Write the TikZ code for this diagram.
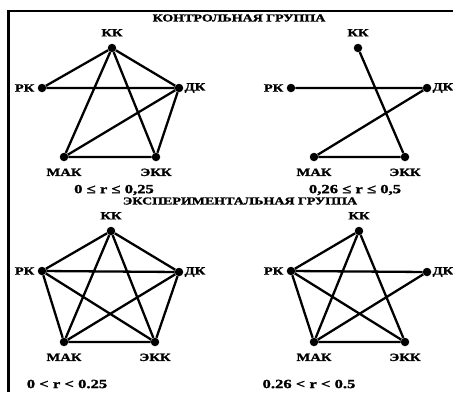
\documentclass[tikz,border=0pt]{standalone}
\usepackage{fontspec}
\setmainfont[FakeStretch=1.33,FakeBold=1.5]{Liberation Serif}
\tikzset{
  vert/.style={circle,fill,inner sep=0pt,minimum size=8.5pt},
  lbl/.style={font=\bfseries\fontsize{11}{12}\selectfont,inner sep=1pt},
  rng/.style={font=\bfseries\fontsize{12.5}{13}\selectfont,inner sep=0pt},
  ttl/.style={font=\bfseries\fontsize{10.5}{11}\selectfont,inner sep=0pt},
  up/.style={label={[lbl,label distance=6pt]above:#1}},
  lft/.style={label={[lbl,label distance=2pt]left:#1}},
  rgt/.style={label={[lbl,label distance=0pt]right:#1}},
  dn/.style={label={[lbl,label distance=6pt]below:#1}},
  edge/.style={line width=2.3pt}
}
\begin{document}
\begin{tikzpicture}[x=1pt,y=-1pt]
\useasboundingbox (0,0) rectangle (453,392);
\draw[line width=2.4pt] (8.5,392)--(8.5,10.7)--(453,10.7);
\node[ttl] (t1) at (239,18) {КОНТРОЛЬНАЯ ГРУППА};
\node[ttl] (t2) at (240,201) {ЭКСПЕРИМЕНТАЛЬНАЯ ГРУППА};
% control group, 0 <= r <= 0,25
\node[vert,up=КК] (kk1) at (112,48) {};
\node[vert,lft=РК] (rk1) at (42,88) {};
\node[vert,rgt=ДК] (dk1) at (179,88) {};
\node[vert,dn=МАК] (mk1) at (64,157) {};
\node[vert,dn=ЭКК] (ek1) at (156,157) {};
\draw[edge] (kk1)--(rk1) (kk1)--(dk1) (kk1)--(mk1) (kk1)--(ek1)
  (rk1)--(dk1) (dk1)--(mk1) (dk1)--(ek1) (mk1)--(ek1);
\node[rng] (r1) at (114,190) {0 ≤ r ≤ 0,25};
% control group, 0,26 <= r <= 0,5
\node[vert,up=КК] (kk2) at (358,48) {};
\node[vert,lft=РК] (rk2) at (291,88) {};
\node[vert,rgt=ДК] (dk2) at (427,88) {};
\node[vert,dn=МАК] (mk2) at (314,157) {};
\node[vert,dn=ЭКК] (ek2) at (405,157) {};
\draw[edge] (kk2)--(ek2) (rk2)--(dk2) (dk2)--(mk2) (mk2)--(ek2);
\node[rng] (r2) at (355,190) {0,26 ≤ r ≤ 0,5};
% experimental group, 0 < r < 0.25
\node[vert,up=КК] (kk3) at (111,231) {};
\node[vert,lft=РК] (rk3) at (42,271) {};
\node[vert,rgt=ДК] (dk3) at (179,272) {};
\node[vert,dn=МАК] (mk3) at (64,342) {};
\node[vert,dn=ЭКК] (ek3) at (155,342) {};
\draw[edge] (kk3)--(rk3) (kk3)--(dk3) (kk3)--(mk3) (kk3)--(ek3)
  (rk3)--(dk3) (rk3)--(mk3) (rk3)--(ek3)
  (dk3)--(mk3) (dk3)--(ek3) (mk3)--(ek3);
\node[rng] (r3) at (67,384) {0 < r < 0.25};
% experimental group, 0.26 < r < 0.5
\node[vert,up=КК] (kk4) at (359,231) {};
\node[vert,lft=РК] (rk4) at (291,271) {};
\node[vert,rgt=ДК] (dk4) at (427,272) {};
\node[vert,dn=МАК] (mk4) at (314,342) {};
\node[vert,dn=ЭКК] (ek4) at (405,342) {};
\draw[edge] (kk4)--(rk4) (kk4)--(mk4) (kk4)--(ek4)
  (rk4)--(dk4) (rk4)--(mk4) (rk4)--(ek4) (dk4)--(mk4) (mk4)--(ek4);
\node[rng] (r4) at (309,384) {0.26 < r < 0.5};
\end{tikzpicture}
\end{document}
